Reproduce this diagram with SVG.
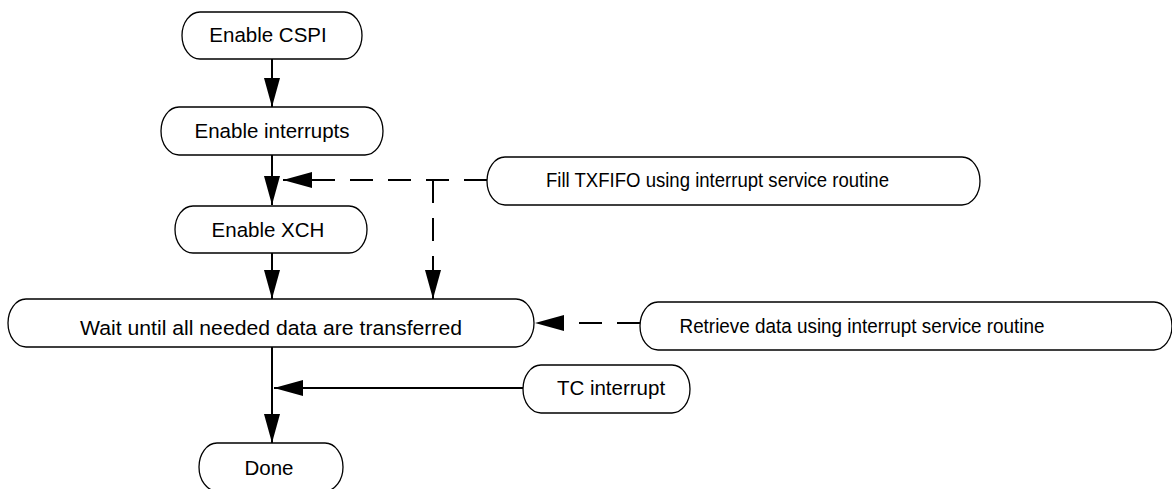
<svg xmlns="http://www.w3.org/2000/svg" width="1172" height="489" viewBox="0 0 1172 489">
<style>
.box{fill:#fff;stroke:#000;stroke-width:1.3}
.t{font-family:"Liberation Sans",Arial,sans-serif;font-size:20.5px;fill:#000;text-anchor:middle}
.c{fill:none;stroke:#000;stroke-width:2}
.d{stroke-dasharray:23 15}
</style>
<defs>
<marker id="ah" viewBox="0 0 29 16" refX="29" refY="8" markerWidth="29" markerHeight="16" markerUnits="userSpaceOnUse" orient="auto">
<path d="M0,0 L29,8 L0,16 z" fill="#000"/>
</marker>
</defs>
<rect width="1172" height="489" fill="#fff"/>
<g id="connectors">
<line class="c" x1="272" y1="59" x2="272" y2="107" marker-end="url(#ah)"/>
<line class="c" x1="272" y1="155" x2="272" y2="205" marker-end="url(#ah)"/>
<line class="c" x1="272" y1="253" x2="272" y2="299" marker-end="url(#ah)"/>
<line class="c" x1="272" y1="347" x2="272" y2="443" marker-end="url(#ah)"/>
<line class="c d" x1="487" y1="180" x2="283" y2="180" marker-end="url(#ah)"/>
<line class="c d" x1="433" y1="180" x2="433" y2="299" marker-end="url(#ah)"/>
<line class="c d" x1="640" y1="323" x2="535" y2="323" marker-end="url(#ah)"/>
<line class="c" x1="523" y1="388" x2="274" y2="388" marker-end="url(#ah)"/>
</g>
<g id="n-cspi"><rect class="box" x="182" y="12" width="180" height="47" rx="18" ry="23.5"/><text class="t" x="268" y="42">Enable CSPI</text></g>
<g id="n-int"><rect class="box" x="161" y="107" width="222" height="48" rx="18" ry="24"/><text class="t" x="272" y="138">Enable interrupts</text></g>
<g id="n-xch"><rect class="box" x="175" y="206" width="192" height="47" rx="18" ry="23.5"/><text class="t" x="268" y="237">Enable XCH</text></g>
<g id="n-wait"><rect class="box" x="8" y="299" width="526" height="48" rx="18" ry="24"/><text class="t" x="271" y="335" textLength="382" lengthAdjust="spacingAndGlyphs">Wait until all needed data are transferred</text></g>
<g id="n-done"><rect class="box" x="199" y="443" width="144" height="48" rx="18" ry="24"/><text class="t" x="269" y="475">Done</text></g>
<g id="n-fill"><rect class="box" x="487" y="157" width="493" height="48" rx="18" ry="24"/><text class="t" x="717.5" y="187" textLength="343" lengthAdjust="spacingAndGlyphs">Fill TXFIFO using interrupt service routine</text></g>
<g id="n-retr"><rect class="box" x="640" y="302" width="532" height="48" rx="18" ry="24"/><text class="t" x="862" y="333" textLength="365" lengthAdjust="spacingAndGlyphs">Retrieve data using interrupt service routine</text></g>
<g id="n-tc"><rect class="box" x="523" y="365" width="167" height="48" rx="18" ry="24"/><text class="t" x="611" y="395">TC interrupt</text></g>
</svg>
